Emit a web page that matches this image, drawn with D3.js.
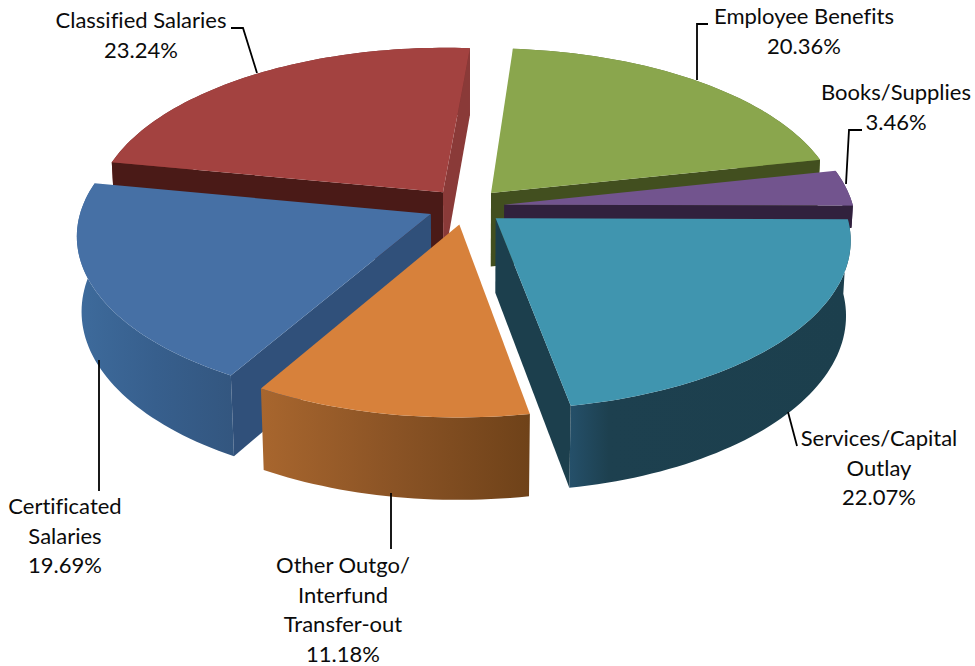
<!DOCTYPE html>
<html>
<head>
<meta charset="utf-8">
<script src="https://cdn.jsdelivr.net/npm/d3@7/dist/d3.min.js"></script>
<style>
  html, body { margin: 0; padding: 0; background: #fff; }
  svg { display: block; }
  text { font-family: Lato, "Open Sans", sans-serif; font-size: 22px; fill: #0b0b0b; text-anchor: middle; font-variant-ligatures: none; }
</style>
</head>
<body>
<svg id="chart" width="975" height="666"></svg>
<script>
// Budget shares, clockwise from the Certificated Salaries slice
const categories = ["Certificated Salaries", "Classified Salaries", "Employee Benefits", "Books/Supplies", "Services/Capital Outlay", "Other Outgo/Interfund Transfer-out"];
const shares = [19.69, 23.24, 20.36, 3.46, 22.07, 11.18];
const labelLines = [
  ["Certificated", "Salaries"],
  ["Classified Salaries"],
  ["Employee Benefits"],
  ["Books/Supplies"],
  ["Services/Capital", "Outlay"],
  ["Other Outgo/", "Interfund", "Transfer-out"]
];

// Per-slice paint: top face, start wall, end wall, outer wall gradient stops
const topColors = ["#4670a5", "#a34240", "#8aa64d", "#72548e", "#4095af", "#d7813b"];
const startWallColors = ["#30507a", "#4a1a17", "#6e8a3c", "#31213d", "#1c3f4d", "#7a4a1c"];
const endWallColors = ["#30507a", "#8a3a38", "#424f1f", "#31213d", "#1c3f4d", "#7a4a1c"];
const outerStops = [
  ["#3e6b9c", "#375f8d", "#33567f"],
  ["#7a302e", "#7a302e", "#7a302e"],
  ["#5f7434", "#5f7434", "#5f7434"],
  ["#4d3862", "#4d3862", "#4d3862"],
  ["#25506a", "#1d404f", "#1c3f4d"],
  ["#a8662e", "#8a5325", "#6f4219"]
];
// Where the middle gradient stop sits along each outer wall
const outerMidStop = [0.5, 0.5, 0.5, 0.5, 0.14, 0.5];
// The Books wedge only shows a thin strip above the Services slice
const wallDepthFactor = [1, 1, 1, 0.3, 1, 1];

// Label placement: centre x and first baseline, line spacing, leader polyline
const labelX = [65, 141, 804, 896, 879, 343];
const labelY = [514, 28, 24, 100, 446, 573];
const lineGap = 29.6;
const leaders = [
  [[99, 360], [99, 491]],
  [[231, 28], [243, 28], [257, 73]],
  [[708, 24], [697, 24], [697, 80]],
  [[862, 130], [849, 130], [846, 184]],
  [[788, 412], [797, 446]],
  [[391, 493], [391, 549]]
];

// Perspective camera for the tilted disc
const cx = 466, cy = 206.5, radiusX = 349, radiusY = 165;
const depth = 75, tiltPersp = 0.12, depthPersp = 0.012, explode = 0.11;
const rotationDeg = -150;

function project(x, y, z) {
  const s = 1 / (1 - tiltPersp * y + depthPersp * z);
  return [cx + radiusX * x * s, cy + radiusY * y * s + depth * z * s];
}

const pie = d3.pie().sort(null)
  .startAngle(rotationDeg * Math.PI / 180)
  .endAngle((rotationDeg + 360) * Math.PI / 180);

const arcs = pie(shares).map((d, i) => {
  const mid = (d.startAngle + d.endAngle) / 2;
  return {
    i,
    a0: d.startAngle,
    a1: d.endAngle,
    ox: explode * Math.sin(mid),
    oy: -explode * Math.cos(mid)
  };
});

const svg = d3.select("#chart");
const defs = svg.append("defs");
const line = d3.line();
const closed = pts => line(pts) + "Z";

function rimPoints(a, z) {
  const n = Math.max(8, Math.ceil((a.a1 - a.a0) * 40));
  return d3.range(n + 1).map(k => {
    const t = a.a0 + (a.a1 - a.a0) * k / n;
    return project(a.ox + Math.sin(t), a.oy - Math.cos(t), z);
  });
}

// Paint far slices first so nearer ones cover them
const order = arcs.slice().sort((p, q) => d3.ascending(p.oy, q.oy));

const slices = svg.append("g").selectAll("g").data(order).join("g");

slices.each(function (a) {
  const g = d3.select(this);
  const zBottom = wallDepthFactor[a.i];
  const top = rimPoints(a, 0);
  const bottom = rimPoints(a, zBottom);
  const apexTop = project(a.ox, a.oy, 0);
  const apexBottom = project(a.ox, a.oy, zBottom);

  // Curved outer wall, shaded left to right
  const gradId = "wall" + a.i;
  const xs = top.concat(bottom).map(p => p[0]);
  const grad = defs.append("linearGradient")
    .attr("id", gradId)
    .attr("gradientUnits", "userSpaceOnUse")
    .attr("x1", d3.min(xs)).attr("x2", d3.max(xs))
    .attr("y1", 0).attr("y2", 0);
  outerStops[a.i].forEach((c, k) => {
    grad.append("stop")
      .attr("offset", [0, outerMidStop[a.i], 1][k])
      .attr("stop-color", c);
  });
  g.append("path")
    .attr("d", closed(top.concat(bottom.slice().reverse())))
    .attr("fill", `url(#${gradId})`);

  // Radial walls, only where they face the camera
  const startWall = [apexTop, top[0], bottom[0], apexBottom];
  const endWall = [apexTop, top[top.length - 1], bottom[bottom.length - 1], apexBottom];
  if (d3.polygonArea(startWall) > 0) {
    g.append("path").attr("d", closed(startWall)).attr("fill", startWallColors[a.i]);
  }
  if (d3.polygonArea(endWall) < 0) {
    g.append("path").attr("d", closed(endWall)).attr("fill", endWallColors[a.i]);
  }

  // Top face
  g.append("path")
    .attr("d", closed([apexTop].concat(top)))
    .attr("fill", topColors[a.i]);
});

// Leader lines
svg.append("g").selectAll("path").data(leaders).join("path")
  .attr("d", line)
  .attr("fill", "none")
  .attr("stroke", "#000")
  .attr("stroke-width", 1.8);

// Category and percentage labels
const pct = d3.format(".2f");
const labels = svg.append("g").selectAll("text").data(categories).join("text")
  .attr("x", (d, i) => labelX[i])
  .attr("y", (d, i) => labelY[i]);
labels.each(function (d, i) {
  const rows = labelLines[i].concat(pct(shares[i]) + "%");
  d3.select(this).selectAll("tspan").data(rows).join("tspan")
    .attr("x", labelX[i])
    .attr("y", (r, k) => labelY[i] + k * lineGap)
    .text(r => r);
});
</script>
</body>
</html>
